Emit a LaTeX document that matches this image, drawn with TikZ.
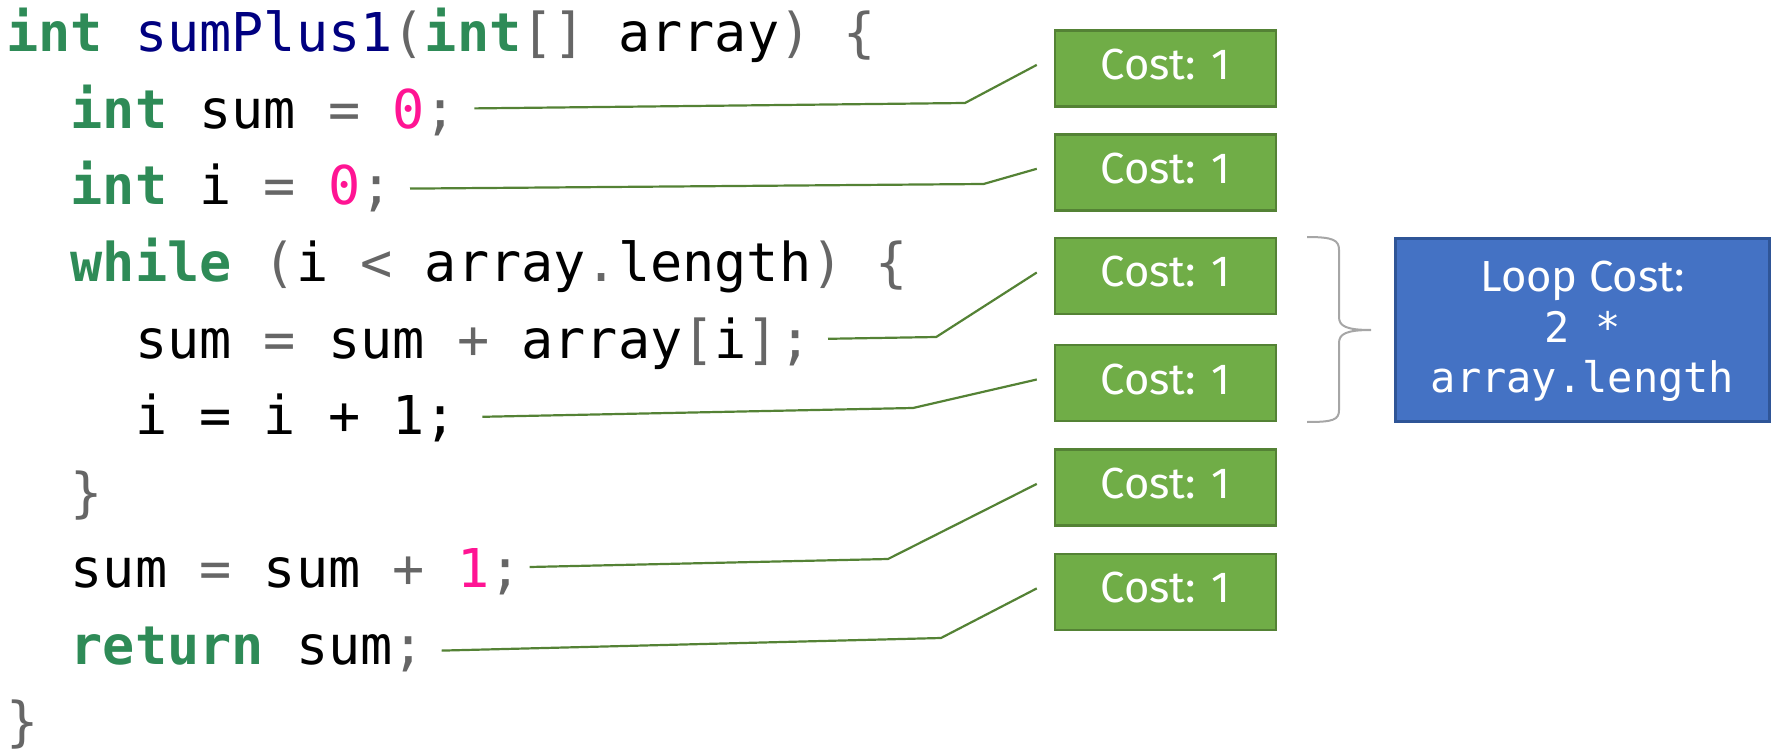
\documentclass[tikz,border=0pt]{standalone}
\usepackage{fontspec}
\setmainfont{Fira Sans}
\newfontfamily\codefont{DejaVu Sans Mono}[WordSpace={1,0,0}]
\usetikzlibrary{calc}
\definecolor{kwgreen}{RGB}{46,139,87}
\definecolor{fnnavy}{RGB}{0,0,128}
\definecolor{numpink}{RGB}{255,20,147}
\definecolor{punctgray}{RGB}{102,102,102}
\definecolor{conngreen}{RGB}{84,130,53}
\definecolor{boxgreen}{RGB}{112,173,71}
\definecolor{boxblue}{RGB}{68,114,196}
\definecolor{boxblueedge}{RGB}{47,85,151}
\definecolor{bracegray}{RGB}{166,166,166}
\newcommand\ckw[1]{\textcolor{kwgreen}{\bfseries #1}}
\newcommand\cfn[1]{\textcolor{fnnavy}{#1}}
\newcommand\cnum[1]{\textcolor{numpink}{#1}}
\newcommand\cpu[1]{\textcolor{punctgray}{#1}}
\begin{document}
\begin{tikzpicture}[x=1pt,y=-1pt,
  codeline/.style={anchor=base west, inner sep=0pt, font=\codefont\fontsize{53.5pt}{60pt}\selectfont},
  costbox/.style={draw=conngreen, line width=2.5pt, fill=boxgreen, minimum width=221pt, minimum height=76pt,
    inner sep=0pt, text=white, font=\fontsize{43.5pt}{50pt}\selectfont, text height=22pt, text depth=0pt},
  loopbox/.style={draw=boxblueedge, line width=3pt, fill=boxblue, minimum width=374pt, minimum height=183pt, inner sep=0pt},
  looptext/.style={anchor=base, inner sep=0pt, text=white, font=\fontsize{43.5pt}{50pt}\selectfont},
  loopcode/.style={anchor=base, inner sep=0pt, text=white, font=\codefont\fontsize{42pt}{50pt}\selectfont},
  conn/.style={draw=conngreen, line width=2.2pt},
  bracket/.style={draw=bracegray, line width=2pt}]
\path[use as bounding box] (0,0) rectangle (1771,751);

% code
\node[codeline] (l1) at (6,52) {\ckw{int} \cfn{sumPlus1}\cpu{(}\ckw{int}\cpu{[]} array\cpu{)} \cpu{\{}};
\node[codeline] (l2) at (70.4,128.5) {\ckw{int} sum \cpu{=} \cnum{0}\cpu{;}};
\node[codeline] (l3) at (70.4,205) {\ckw{int} i \cpu{=} \cnum{0}\cpu{;}};
\node[codeline] (l4) at (70.4,281.5) {\ckw{while} \cpu{(}i \cpu{<} array\cpu{.}length\cpu{)} \cpu{\{}};
\node[codeline] (l5) at (134.8,358) {sum \cpu{=} sum \cpu{+} array\cpu{[}i\cpu{]}\cpu{;}};
\node[codeline] (l6) at (134.8,434.5) {i = i + 1;};
\node[codeline] (l7) at (70.4,511) {\cpu{\}}};
\node[codeline] (l8) at (70.4,587.5) {sum \cpu{=} sum \cpu{+} \cnum{1}\cpu{;}};
\node[codeline] (l9) at (70.4,664) {\ckw{return} sum\cpu{;}};
\node[codeline] (l10) at (6,740.5) {\cpu{\}}};

% cost boxes
\node[costbox] (c1) at (1165.5,68.4) {Cost: 1};
\node[costbox] (c2) at (1165.5,172.3) {Cost: 1};
\node[costbox] (c3) at (1165.5,276) {Cost: 1};
\node[costbox] (c4) at (1165.5,383) {Cost: 1};
\node[costbox] (c5) at (1165.5,487.4) {Cost: 1};
\node[costbox] (c6) at (1165.5,591.9) {Cost: 1};

% loop box
\node[loopbox] (loop) at (1582.5,330) {};
\node[looptext] (lt1) at (1582.5,291.7) {Loop Cost:};
\node[loopcode] (lt2) at (1582.5,342.7) {2 *};
\node[loopcode] (lt3) at (1582.5,392.7) {array.length};

% bracket
\draw[bracket] (1307,237) .. controls (1333,237) and (1339,240) .. (1339,250)
  -- (1339,317) .. controls (1339,326) and (1346,330) .. (1371,330)
  .. controls (1346,330) and (1339,334) .. (1339,343)
  -- (1339,410) .. controls (1339,420) and (1333,422) .. (1307,422);

% connectors
\coordinate (s1) at (474.4,108.4); \coordinate (k1) at (965,103);
\coordinate (s2) at (410,188.6);   \coordinate (k2) at (983.5,184);
\coordinate (s3) at (828,338.8);   \coordinate (k3) at (936.2,337);
\coordinate (s4) at (482.3,416.8); \coordinate (k4) at (913,408);
\coordinate (s5) at (529.7,567);   \coordinate (k5) at (888,559);
\coordinate (s6) at (441.6,650.6); \coordinate (k6) at (941,638);
\draw[conn] (s1) -- (k1) -- ($(c1.west)+(-17,-3.5)$);
\draw[conn] (s2) -- (k2) -- ($(c2.west)+(-17,-3.5)$);
\draw[conn] (s3) -- (k3) -- ($(c3.west)+(-17,-3.5)$);
\draw[conn] (s4) -- (k4) -- ($(c4.west)+(-17,-3.5)$);
\draw[conn] (s5) -- (k5) -- ($(c5.west)+(-17,-3.5)$);
\draw[conn] (s6) -- (k6) -- ($(c6.west)+(-17,-3.5)$);
\end{tikzpicture}
\end{document}
